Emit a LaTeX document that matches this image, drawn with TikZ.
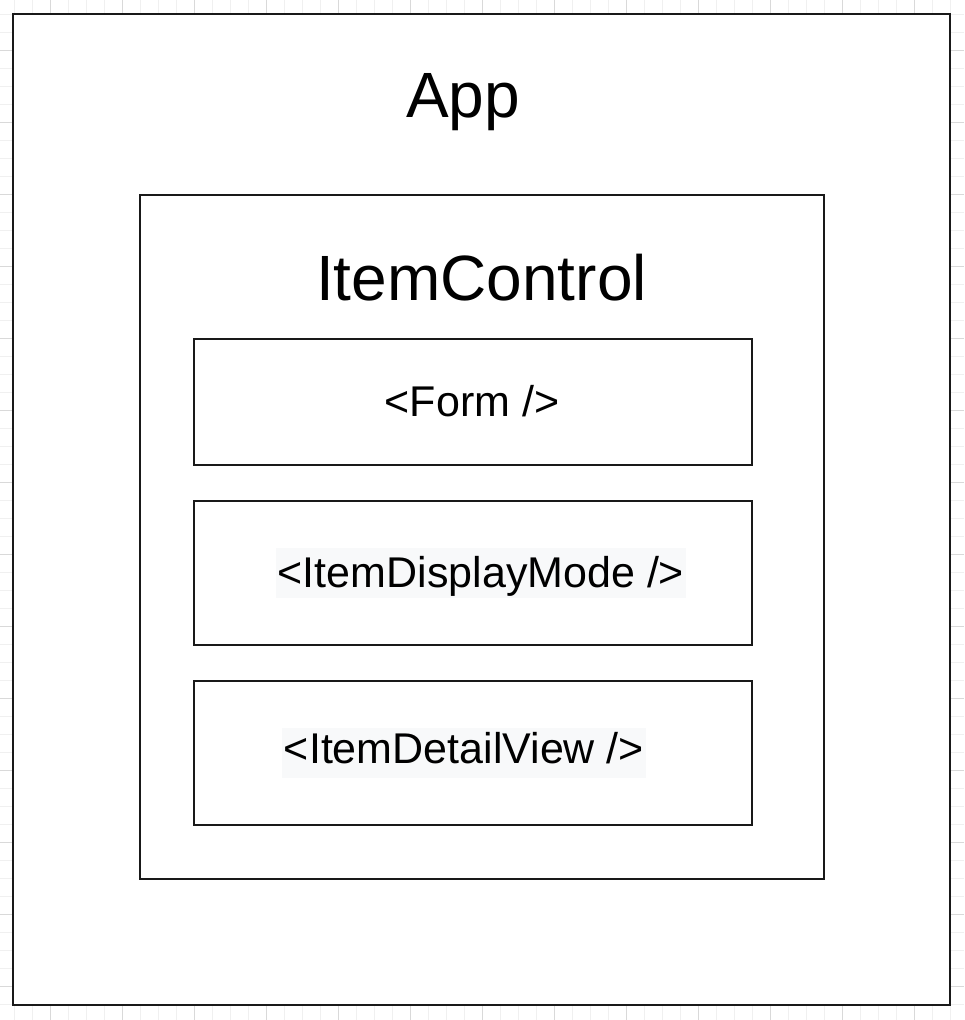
\documentclass[tikz,border=0pt]{standalone}
\usepackage{fontspec}
\setmainfont{Liberation Sans}
\definecolor{gridminor}{HTML}{F0F0F0}
\definecolor{gridmajor}{HTML}{D9D9D9}
\definecolor{codebg}{HTML}{F8F9FA}
\begin{document}
\begin{tikzpicture}[x=1pt,y=-1pt,
        frame/.style={draw=black!90,line width=2pt,fill=white,inner sep=0pt},
        big/.style={font=\fontsize{64}{77}\selectfont,anchor=base,inner sep=0pt},
        small/.style={font=\fontsize{43}{52}\selectfont,anchor=base,inner sep=0pt},
        hl/.style={small,fill=codebg,text height=31pt,text depth=11pt,inner ysep=4pt,inner xsep=1.5pt}]
            \useasboundingbox (0,0) rectangle (964,1020);
            % background grid
            \foreach \k in {0,...,52} \draw [gridminor,line width=1pt] ({14+18*\k},0) -- ({14+18*\k},1020);
            \foreach \k in {0,...,55} \draw [gridminor,line width=1pt] (0,{14+18*\k}) -- (964,{14+18*\k});
            \foreach \k in {0,...,12} \draw [gridmajor,line width=1pt] ({50+72*\k},0) -- ({50+72*\k},1020);
            \foreach \k in {0,...,13} \draw [gridmajor,line width=1pt] (0,{50+72*\k}) -- (964,{50+72*\k});

            \node [frame,minimum width=937pt,minimum height=991pt] (App) at (481.5,509.5) {};
            \node [big] (AppLabel) at (463,117) {App};

            \node [frame,minimum width=684pt,minimum height=684pt] (Control) at (482,537) {};
            \node [big] (ControlLabel) at (481.5,300) {ItemControl};

            \node [frame,minimum width=558pt,minimum height=126pt] (Form) at (473,402) {};
            \node [small] (FormLabel) at (472,416) {<Form />};

            \node [frame,minimum width=558pt,minimum height=144pt] (Display) at (473,573) {};
            \node [hl,text height=35pt,text depth=7pt] (DisplayLabel) at (481,587) {<ItemDisplayMode />};

            \node [frame,minimum width=558pt,minimum height=144pt] (Detail) at (473,753) {};
            \node [hl] (DetailLabel) at (464,763) {<ItemDetailView />};
        \end{tikzpicture}
\end{document}
